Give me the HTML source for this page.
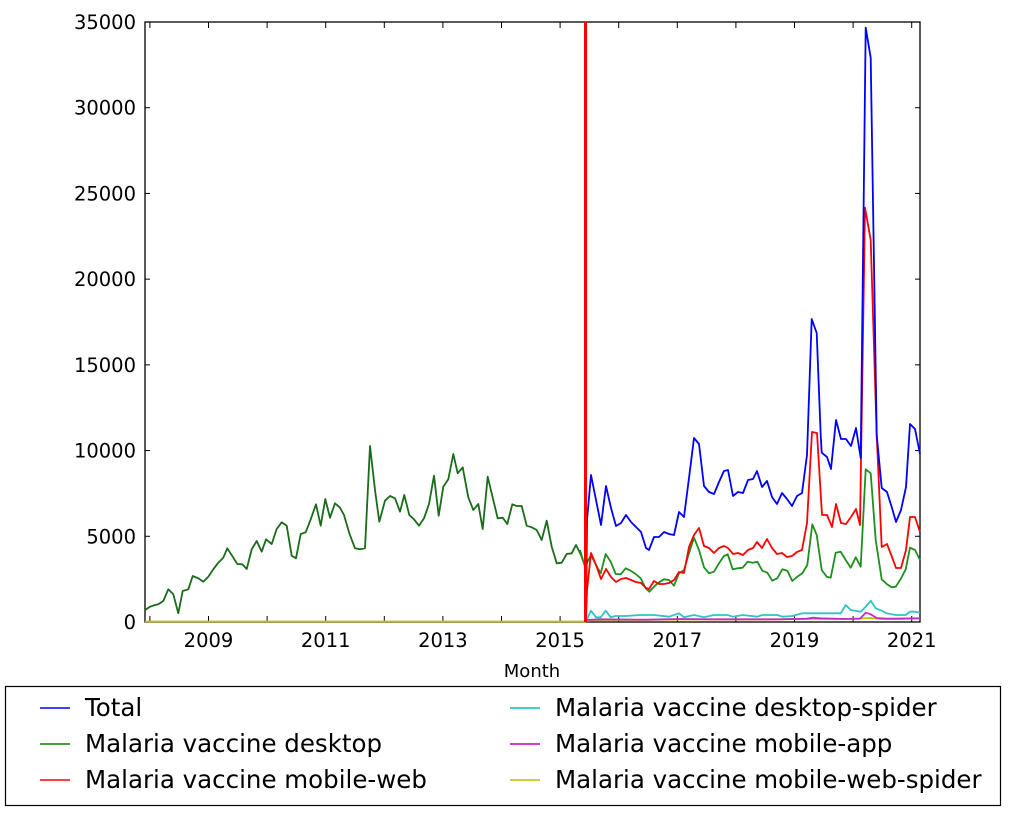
<!DOCTYPE html>
<html><head><meta charset="utf-8"><style>
body{margin:0;background:#fff;width:1011px;height:812px;overflow:hidden}
svg text{font-family:"DejaVu Sans","Liberation Sans",sans-serif}
</style></head><body>
<svg id="s" width="1011" height="812" xmlns="http://www.w3.org/2000/svg">
<rect x="145" y="22" width="775" height="600" fill="#fff" stroke="#000" stroke-width="1.3"/>
<g id="ticks"></g>
<g id="series" fill="none" stroke-width="1.8" stroke-linejoin="round"></g>
<line x1="585.5" y1="22" x2="585.5" y2="622" stroke="#ff0000" stroke-width="3"/>
<text x="532" y="677" font-size="18" text-anchor="middle">Month</text>
<rect x="5.5" y="686.5" width="995" height="119" fill="#fff" stroke="#000" stroke-width="1.2"/>
<g font-size="24.5">
<line x1="40" y1="708" x2="70" y2="708" stroke="#0000ff" stroke-width="1.5"/><text x="85" y="716">Total</text>
<line x1="40" y1="744" x2="70" y2="744" stroke="#008000" stroke-width="1.5"/><text x="85" y="752">Malaria vaccine desktop</text>
<line x1="40" y1="780" x2="70" y2="780" stroke="#ff0000" stroke-width="1.5"/><text x="85" y="788">Malaria vaccine mobile-web</text>
<line x1="510" y1="708" x2="540" y2="708" stroke="#00bfbf" stroke-width="1.5"/><text x="555" y="716">Malaria vaccine desktop-spider</text>
<line x1="510" y1="744" x2="540" y2="744" stroke="#bf00bf" stroke-width="1.5"/><text x="555" y="752">Malaria vaccine mobile-app</text>
<line x1="510" y1="780" x2="540" y2="780" stroke="#bfbf00" stroke-width="1.5"/><text x="555" y="788">Malaria vaccine mobile-web-spider</text>
</g>
</svg>
<script>
var NS="http://www.w3.org/2000/svg",s=document.getElementById('s');
function el(p,t,a,txt){var e=document.createElementNS(NS,t);for(var k in a)e.setAttribute(k,a[k]);if(txt)e.textContent=txt;p.appendChild(e);return e;}
var tk=document.getElementById('ticks');
for(var i=0;i<=7;i++){var v=i*5000,y=622-v*600/35000;
el(tk,'line',{x1:145,y1:y,x2:150,y2:y,stroke:'#000'});el(tk,'line',{x1:915,y1:y,x2:920,y2:y,stroke:'#000'});
el(tk,'text',{x:136,y:y+7,'font-size':19.5,'text-anchor':'end'},String(v));}
for(var yr=2008;yr<=2021;yr++){var x=208.5+(yr-2009)*58.6;
el(tk,'line',{x1:x,y1:622,x2:x,y2:616,stroke:'#000'});el(tk,'line',{x1:x,y1:22,x2:x,y2:28,stroke:'#000'});
if(yr%2==1)el(tk,'text',{x:x,y:647,'font-size':19.5,'text-anchor':'middle'},String(yr));}
var g=document.getElementById('series');
function line(pts,ox,oy,col){var d=[];for(var i=0;i<pts.length;i+=2)d.push((ox+pts[i]/3).toFixed(1)+','+(oy+pts[i+1]/3).toFixed(1));
el(g,'polyline',{points:d.join(' '),stroke:col});}
function raw(pts,col){el(g,'polyline',{points:pts,stroke:col});}
raw('145,621.5 586,621.5','#bfbf00');
var pre=[15,690,30,680,45,675,55,673,70,663,85,628,100,643,115,700,128,633,145,628,158,588,175,595,190,605,205,590,220,568,235,548,250,533,262,505,278,530,292,552,307,553,320,567,335,508,350,483,365,515,378,478,395,492,410,447,425,427,440,437,455,527,468,535,482,462,497,457,512,418,528,373,542,437,556,357,570,413,585,370,600,383,612,405,628,460,645,505,660,508,675,505,690,198,705,330,718,425,735,362,750,348,765,355,780,395,793,345,808,405,822,418,837,437,852,415,867,372,882,287,896,407,910,320,925,298,940,222,953,280,968,262,985,352,1000,390,1015,372,1028,447,1043,290,1058,353,1073,415,1088,413,1102,432,1117,373,1130,378,1145,378,1160,437,1175,442,1190,450,1205,480,1220,422,1235,500,1250,550,1265,548,1280,522,1295,520,1308,495,1323,525,1335,558];
line(pre,140,380,'#1a6b1a');
raw('586,621 600,620 640,620 680,619.5 700,619.5 760,619.5 800,619 840,619 860,618.5 870,618 880,619 900,619 919,618.5','#bfbf00');
var cy=[20,720,33,692,48,712,62,712,77,692,92,712,107,708,137,708,182,705,222,705,267,710,297,700,312,712,342,705,372,712,402,705,443,705,458,710,488,705,532,710,547,705,592,705,607,710,637,708,667,700,697,700,752,700,782,700,797,675,812,690,842,695,857,680,872,662,887,685,905,692,920,700,947,705,977,705,990,695,1005,695,1020,698];
line(cy,580,380,'#2ec4c4');
var mg=[20,720,60,718,200,719,300,717,400,718,500,718,600,718,680,716,700,713,720,715,800,717,840,716,857,698,872,703,890,714,920,716,1020,715];
line(mg,580,380,'#c030c0');
var gr=[0,510,15,560,33,525,48,555,62,580,77,522,92,545,107,582,122,583,137,565,152,572,167,582,182,595,197,625,208,635,222,620,237,607,252,598,267,600,282,617,297,580,312,570,327,520,342,473,357,510,372,562,387,580,402,575,417,550,432,528,443,523,458,568,473,565,488,563,503,545,518,548,532,545,547,572,562,578,577,602,592,595,607,568,622,572,637,603,652,590,667,580,682,555,697,433,710,465,725,570,740,590,752,593,767,518,782,515,797,540,812,563,827,532,842,560,857,268,872,280,887,480,905,598,920,612,935,622,947,620,962,597,977,568,990,503,1005,510,1020,540];
line(gr,580,380,'#1f8f1f');
raw('586,621 587,590 591,553 596,565 601,579 606,569 611,577 616,582 621,579 626,578 631,580 636,582 641,583 646,588 649,589 654,581 659,584 664,584 669,583 674,580 679,572 684,573 689,547 694,535 699,528 704,546 709,548 714,553 719,548 724,546 728,548 733,554 738,553 743,555 748,550 753,548 757,542 762,548 767,539 772,548 777,554 782,553 787,557 792,556 797,552 802,550 807,523 812,432 817,433 822,515 827,515 832,527 836,504 841,523 846,524 851,517 856,509 860,525 865,207.7 870.7,240 876.7,435 881.7,547 887,544 892,557 896,568 901,568 906,550 910,517 915,517 920,532','#ff0000');
raw('586,621 587,520 591,475 596,500 601,525 606,486 611,508 616,526 621,523 626,515 631,522 636,527 641,532 646,548 649,550 654,537 659,537 664,532 669,534 674,535 679,512 684,517 689,478 694,438 699,444 704,486 709,492 714,494 719,482 724,471 728,470 733,496 738,492 743,493 748,480 753,479 757,471 762,487 767,481 772,497 777,504 782,493 787,499 792,506 797,496 802,493 807,455 811.7,319 816.7,333 820.7,435 821.7,452.7 827,457 831,469 836,420 841,439 846,439 851,446 856,428 860.7,458 865.7,27.7 870.7,57.7 876.7,435 881.7,488 887,492 892,508 896,522 901,510 906,487 910,424 915,429 920,454','#0000ff');
</script>
</body></html>
